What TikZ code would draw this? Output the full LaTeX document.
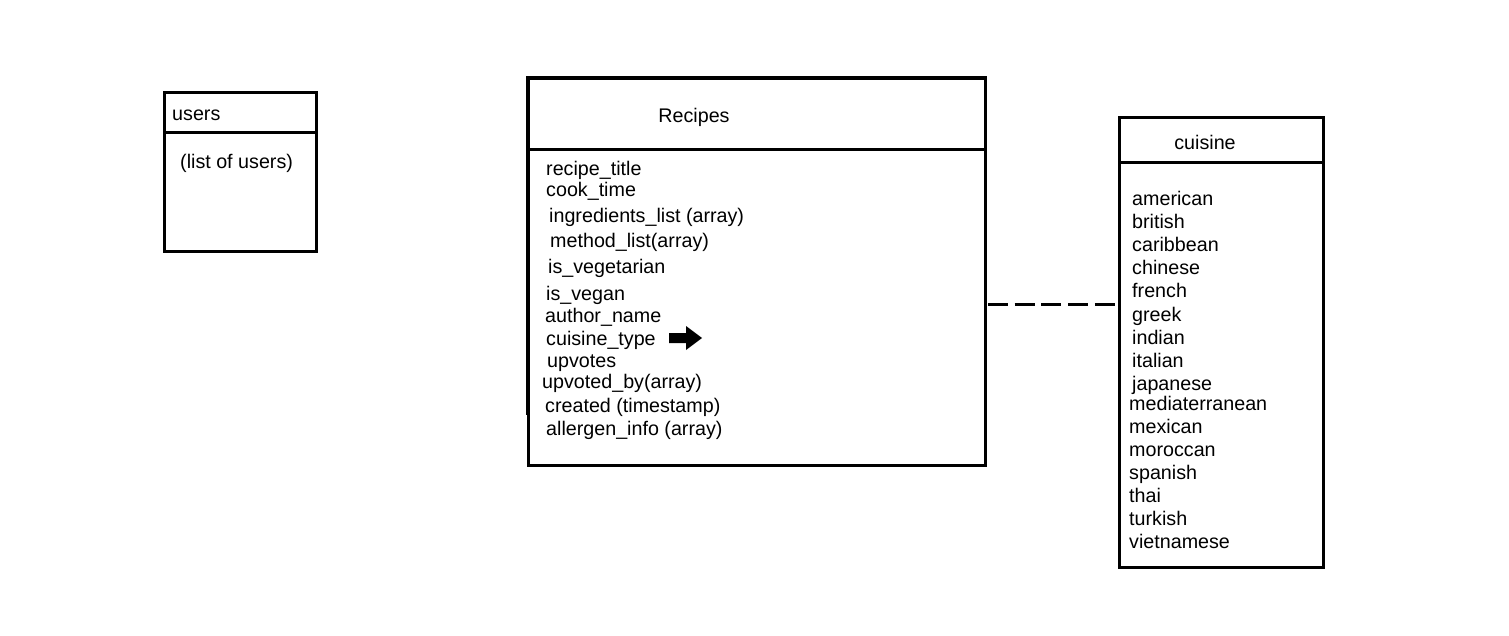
\documentclass[tikz,border=0pt]{standalone}
\usepackage{fontspec}
\setmainfont{Liberation Sans}
\begin{document}
\begin{tikzpicture}[x=1pt,y=-1pt,
  box/.style={line width=3pt},
  lbl/.style={anchor=base west,inner sep=0pt,font=\fontsize{19.7}{19.7}\selectfont},
  title/.style={anchor=base,inner sep=0pt,font=\fontsize{19.7}{19.7}\selectfont},
  link/.style={line width=3pt,dash pattern=on 20pt off 6.7pt}]
\useasboundingbox (0,0) rectangle (1509,636);

% users table
\draw[box] (164,93) rectangle (316,252);
\draw[box] (164,133) -- (316,133);
\node[lbl] (usersT) at (172,121) {users};
\node[lbl] (usersL) at (180,169) {(list of users)};

% recipes table
\draw[box] (528,78) rectangle (985,465);
\draw[line width=4pt] (526,78) -- (987,78);
\draw[line width=4pt] (528,78) -- (528,415);
\draw[box] (528,150) -- (985,150);
\node[title] (recT) at (694,123) {Recipes};
\node[lbl] (f1) at (546,176) {recipe\_title};
\node[lbl] (f2) at (546,197) {cook\_time};
\node[lbl] (f3) at (549,223) {ingredients\_list (array)};
\node[lbl] (f4) at (550,248) {method\_list(array)};
\node[lbl] (f5) at (548,273) {is\_vegetarian};
\node[lbl] (f6) at (546,300) {is\_vegan};
\node[lbl] (f7) at (545,322) {author\_name};
\node[lbl] (f8) at (546,345) {cuisine\_type};
\node[lbl] (f9) at (547,367) {upvotes};
\node[lbl] (f10) at (542,388) {upvoted\_by(array)};
\node[lbl] (f11) at (545,412) {created (timestamp)};
\node[lbl] (f12) at (546,435) {allergen\_info (array)};

% block arrow beside cuisine_type
\fill (669,333) -- (686,333) -- (686,326) -- (702,338) -- (686,350) -- (686,343) -- (669,343) -- cycle;

% cuisine table
\draw[box] (1119,118) rectangle (1323,567);
\draw[box] (1119,163) -- (1323,163);
\node[title] (cuiT) at (1205,150) {cuisine};
\node[lbl] (c1) at (1132,206) {american};
\node[lbl] (c2) at (1132,229) {british};
\node[lbl] (c3) at (1132,252) {caribbean};
\node[lbl] (c4) at (1132,275) {chinese};
\node[lbl] (c5) at (1132,298) {french};
\node[lbl] (c6) at (1132,321) {greek};
\node[lbl] (c7) at (1132,344) {indian};
\node[lbl] (c8) at (1132,367) {italian};
\node[lbl] (c9) at (1132,390) {japanese};
\node[lbl] (c10) at (1129,410) {mediaterranean};
\node[lbl] (c11) at (1129,433) {mexican};
\node[lbl] (c12) at (1129,456) {moroccan};
\node[lbl] (c13) at (1129,479) {spanish};
\node[lbl] (c14) at (1129,502) {thai};
\node[lbl] (c15) at (1129,525) {turkish};
\node[lbl] (c16) at (1129,548) {vietnamese};

% relation between recipes and cuisine
\coordinate (relA) at (988,304);
\coordinate (relB) at (1115,304);
\draw[link] (relA) -- (relB);
\end{tikzpicture}
\end{document}
